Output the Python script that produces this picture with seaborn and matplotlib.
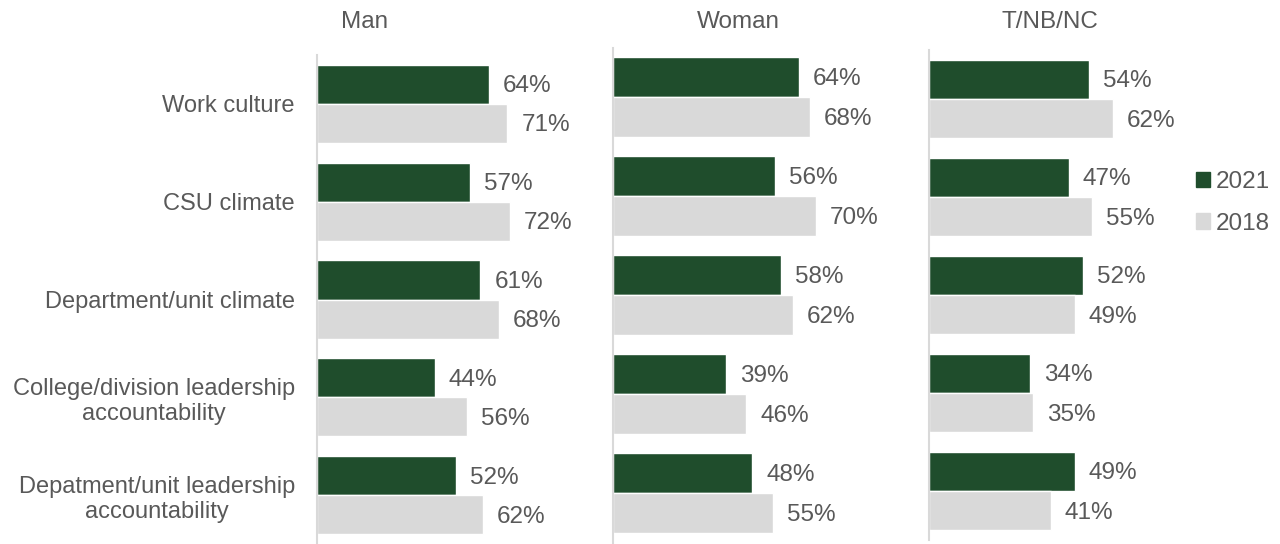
import pandas as pd
import seaborn as sns
import matplotlib.pyplot as plt
from matplotlib.patches import Patch

categories = ["Work culture", "CSU climate", "Department/unit climate",
              "College/division leadership\naccountability",
              "Depatment/unit leadership\naccountability"]
groups = ["Man", "Woman", "T/NB/NC"]
years = ["2021", "2018"]

man_2021 = [64, 57, 61, 44, 52]
man_2018 = [71, 72, 68, 56, 62]
woman_2021 = [64, 56, 58, 39, 48]
woman_2018 = [68, 70, 62, 46, 55]
tnb_2021 = [54, 47, 52, 34, 49]
tnb_2018 = [62, 55, 49, 35, 41]

values = {
    "Man": (man_2021, man_2018),
    "Woman": (woman_2021, woman_2018),
    "T/NB/NC": (tnb_2021, tnb_2018),
}

colors = {"2021": "#1F4D2C", "2018": "#D9D9D9"}
text_col = "#595959"

sns.set_style("white")
plt.rcParams['font.family'] = ['Liberation Sans', 'DejaVu Sans']

W, H = 1280, 544
fig = plt.figure(figsize=(W / 100, H / 100), dpi=100)

# panel rects in pixels: left, top, width(0..100%), bottom
rects = {
    "Man": (317, 55, 268, 544),
    "Woman": (613, 47.5, 290, 542.5),
    "T/NB/NC": (929, 50, 297, 540),
}
title_x = {"Man": 365, "Woman": 738, "T/NB/NC": 1050}

for i, g in enumerate(groups):
    v21, v18 = values[g]
    df = pd.DataFrame({
        "Category": categories * 2,
        "Year": ["2021"] * 5 + ["2018"] * 5,
        "Value": v21 + v18,
    })
    l, t, w, b = rects[g]
    ax = fig.add_axes([l / W, 1 - b / H, w / W, (b - t) / H])
    sns.barplot(data=df, y="Category", x="Value", hue="Year", orient="h",
                palette=colors, hue_order=years, width=0.8, ax=ax,
                legend=False, saturation=1)
    ax.set_xlim(0, 100)
    ax.set_ylim(4.5, -0.5)
    ax.set_xlabel("")
    ax.set_ylabel("")
    ax.set_xticks([])
    for c in ax.containers:
        for bar in c:
            val = bar.get_width()
            ax.annotate(f"{val:.0f}%", (val, bar.get_y() + bar.get_height() / 2),
                        xytext=(14, -2), textcoords="offset pixels",
                        va="center", ha="left", fontsize=17.5, color=text_col)
    for s in ["top", "right", "bottom"]:
        ax.spines[s].set_visible(False)
    ax.spines["left"].set_color("#D9D9D9")
    ax.spines["left"].set_linewidth(1.5)
    if i == 0:
        ax.tick_params(axis="y", length=0, pad=16, labelsize=17, labelcolor=text_col)
        for lab in ax.get_yticklabels():
            lab.set_multialignment("center")
    else:
        ax.set_yticklabels([])
        ax.tick_params(axis="y", length=0)
    fig.text(title_x[g] / W, 1 - 22 / H, g, ha="center", va="center",
             fontsize=17.5, color=text_col)

handles = [Patch(color=colors[y], label=y) for y in years]
leg = fig.legend(handles=handles, loc="center left",
                 bbox_to_anchor=(1174 / W, 1 - 203 / H), frameon=False,
                 fontsize=17.5, handlelength=0.6, handleheight=0.6,
                 handletextpad=0.2, labelspacing=0.8, labelcolor=text_col)

fig.savefig("out.png", dpi=100)
